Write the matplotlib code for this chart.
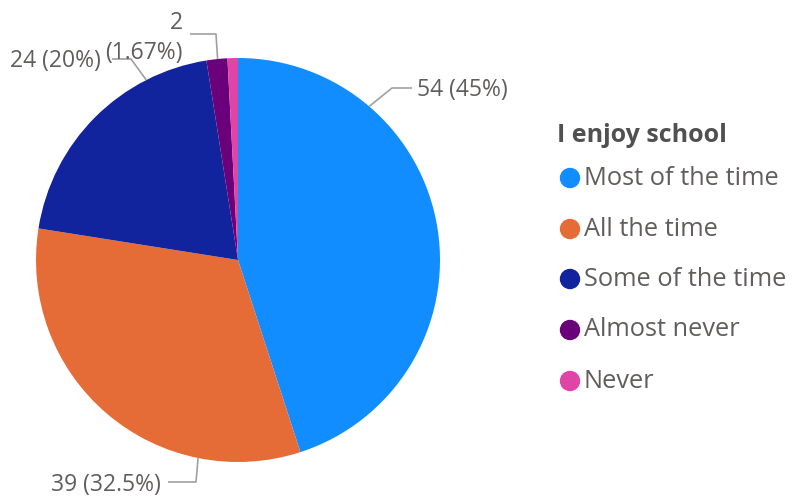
import matplotlib
matplotlib.use("Agg")
import matplotlib.pyplot as plt
import numpy as np

categories = ["Most of the time", "All the time", "Some of the time", "Almost never", "Never"]
values = [54, 39, 24, 2, 1]
pct_labels = ["54 (45%)", "39 (32.5%)", "24 (20%)", "2\n(1.67%)", None]
colors = ["#118DFF", "#E66C37", "#12239E", "#6B007B", "#E044A7"]
legend_title = "I enjoy school"

W, H = 793, 499
fig = plt.figure(figsize=(W / 100, H / 100), dpi=100)
ax = fig.add_axes([0, 0, 1, 1])

cx, cy, R = 238, H - 260, 202
wedges, _ = ax.pie(values, colors=colors, startangle=90, counterclock=False,
                   center=(cx, cy), radius=R, frame=True,
                   wedgeprops=dict(linewidth=0))
ax.set_xlim(0, W)
ax.set_ylim(0, H)
ax.set_aspect("equal")
ax.axis("off")

txt_color = "#605E5C"
line_color = "#A0A0A0"
font = ["Open Sans", "DejaVu Sans"]

# label leader specs: anchor angle (deg), elbow point, end point, text pos, ha
leaders = [
    (49.5, (392, 88), (412, 88), (417, 90), "left"),
    (258.6, (196, 482), (168, 482), (161, 485), "right"),
    (117, (131, 59), (112, 59), (101, 61), "right"),
    (95.8, (216, 34), (190, 34), (183, 38), "right"),
]
for lab, (ang, elbow, end, tpos, ha) in zip(pct_labels, leaders):
    if lab is None:
        continue
    a = np.deg2rad(ang)
    x0, y0 = cx + R * np.cos(a), cy + R * np.sin(a)
    xs = [x0, elbow[0], end[0]]
    ys = [y0, H - elbow[1], H - end[1]]
    ax.plot(xs, ys, color=line_color, lw=1.2, solid_capstyle="butt")
    ax.text(tpos[0], H - tpos[1], lab, ha=ha, va="center", fontsize=16.5,
            color=txt_color, family=font, linespacing=1.3,
            multialignment="right")

# legend
ax.text(557, H - 135, legend_title, ha="left", va="center", fontsize=18,
        fontweight="bold", color="#505050", family=font)
ys_leg = [178, 229, 279, 330, 381]
for cat, col, yy in zip(categories, colors, ys_leg):
    ax.add_patch(plt.Circle((570, H - yy), 9.5, color=col))
    ax.text(584, H - yy, cat, ha="left", va="center", fontsize=18.3,
            color=txt_color, family=font)

fig.savefig("out.png", dpi=100)
